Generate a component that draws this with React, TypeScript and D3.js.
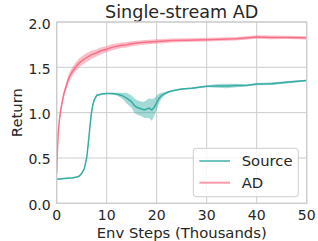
import * as d3 from 'd3'

const title = 'Single-stream AD'
const xLabel = 'Env Steps (Thousands)'
const yLabel = 'Return'
const xTicks = [0, 10, 20, 30, 40, 50]
const yTicks = [0, 0.5, 1.0, 1.5, 2.0]

// AD series (env steps in thousands, mean return, half-width of the band)
const adSteps = [0, 0.1, 0.27, 0.5, 0.73, 1, 1.4, 2, 2.4, 3, 3.75, 4.5, 5.75, 7, 7.8, 8.7, 10, 11, 12.7, 14, 15, 17, 20, 23, 26, 30, 33, 36, 40, 43, 46, 50]
const adReturn = [0.33, 0.52, 0.75, 0.9, 1.0, 1.09, 1.2, 1.31, 1.38, 1.44, 1.5, 1.55, 1.6, 1.64, 1.655, 1.68, 1.7, 1.72, 1.74, 1.75, 1.76, 1.775, 1.785, 1.795, 1.8, 1.805, 1.81, 1.815, 1.835, 1.83, 1.83, 1.825]
const adSpread = [0.01, 0.015, 0.02, 0.025, 0.03, 0.03, 0.035, 0.04, 0.045, 0.05, 0.05, 0.05, 0.05, 0.045, 0.04, 0.04, 0.035, 0.035, 0.03, 0.03, 0.028, 0.025, 0.025, 0.022, 0.022, 0.02, 0.02, 0.02, 0.02, 0.02, 0.018, 0.018]

// Source series
const sourceSteps = [0, 1, 2, 3, 4, 4.5, 5, 5.5, 6, 6.3, 6.6, 6.9, 7.2, 7.5, 8, 9, 10, 11, 12, 13, 14, 15, 15.5, 16, 17, 17.5, 18, 18.5, 19, 19.5, 20, 20.5, 21, 22, 23, 25, 27, 30, 32, 34, 36, 38, 40, 43, 45, 47, 50]
const sourceReturn = [0.265, 0.27, 0.275, 0.28, 0.29, 0.3, 0.33, 0.38, 0.5, 0.65, 0.82, 0.98, 1.08, 1.14, 1.19, 1.205, 1.21, 1.21, 1.205, 1.19, 1.16, 1.12, 1.08, 1.06, 1.04, 1.03, 1.04, 1.05, 1.03, 1.06, 1.11, 1.16, 1.19, 1.22, 1.24, 1.26, 1.27, 1.29, 1.295, 1.295, 1.3, 1.3, 1.315, 1.32, 1.33, 1.34, 1.355]
const sourceSpread = [0.006, 0.006, 0.006, 0.006, 0.007, 0.008, 0.01, 0.012, 0.015, 0.02, 0.02, 0.02, 0.02, 0.015, 0.01, 0.008, 0.008, 0.01, 0.015, 0.03, 0.06, 0.07, 0.08, 0.08, 0.08, 0.09, 0.1, 0.11, 0.12, 0.1, 0.08, 0.05, 0.03, 0.012, 0.01, 0.008, 0.008, 0.01, 0.02, 0.025, 0.02, 0.01, 0.012, 0.015, 0.015, 0.012, 0.008]

const AD_COLOR = '#f77189'
const SOURCE_COLOR = '#36ada4'
const TEXT = '#262626'
const GRID = '#cccccc'
const FONT = 'DejaVu Sans, sans-serif'

type Pt = { x: number; y: number; s: number }

function zipSeries(xs: number[], ys: number[], ss: number[]): Pt[] {
  return xs.map((x, i) => ({ x, y: ys[i], s: ss[i] }))
}

export default function App() {
  const width = 318
  const height = 241
  const margin = { top: 22, right: 11.3, bottom: 37.7, left: 56.7 }
  const innerW = width - margin.left - margin.right
  const innerH = height - margin.top - margin.bottom

  const x = d3.scaleLinear().domain([0, 50]).range([0, innerW])
  const y = d3.scaleLinear().domain([0, 2]).range([innerH, 0])

  const series = [
    { name: 'Source', color: SOURCE_COLOR, data: zipSeries(sourceSteps, sourceReturn, sourceSpread) },
    { name: 'AD', color: AD_COLOR, data: zipSeries(adSteps, adReturn, adSpread) },
  ]

  const area = d3
    .area<Pt>()
    .x((d) => x(d.x))
    .y0((d) => y(d.y - d.s))
    .y1((d) => y(d.y + d.s))
  const line = d3
    .line<Pt>()
    .x((d) => x(d.x))
    .y((d) => y(d.y))

  const legend = { x: 136.6, y: 126.3, w: 105, h: 48.4 }

  return (
    <svg
      width={width}
      height={height}
      style={{ position: 'absolute', left: 0, top: 0, background: '#fff' }}
      fontFamily={FONT}
    >
      <text x={margin.left + innerW / 2} y={18.3} textAnchor="middle" fontSize={17.6} fill={TEXT}>
        {title}
      </text>
      <g transform={`translate(${margin.left}, ${margin.top})`}>
        {/* grid */}
        {xTicks.map((t) => (
          <line key={`gx-${t}`} x1={x(t)} x2={x(t)} y1={0} y2={innerH} stroke={GRID} strokeWidth={1} />
        ))}
        {yTicks.map((t) => (
          <line key={`gy-${t}`} x1={0} x2={innerW} y1={y(t)} y2={y(t)} stroke={GRID} strokeWidth={1} />
        ))}

        {/* bands + mean lines */}
        {series.map((s) => (
          <g key={s.name}>
            <path d={area(s.data) || ''} fill={s.color} fillOpacity={0.45} />
            <path d={line(s.data) || ''} fill="none" stroke={s.color} strokeWidth={1.5} />
          </g>
        ))}

        {/* frame */}
        <rect x={0} y={0} width={innerW} height={innerH} fill="none" stroke={GRID} strokeWidth={1.2} />

        {/* tick labels */}
        {xTicks.map((t) => (
          <text key={`tx-${t}`} x={x(t)} y={innerH + 16.7} textAnchor="middle" fontSize={14} fill={TEXT}>
            {t}
          </text>
        ))}
        {yTicks.map((t) => (
          <text key={`ty-${t}`} x={-6} y={y(t) + 6.5} textAnchor="end" fontSize={14} fill={TEXT}>
            {d3.format('.1f')(t)}
          </text>
        ))}

        {/* legend */}
        <rect
          x={legend.x}
          y={legend.y}
          width={legend.w}
          height={legend.h}
          rx={3}
          fill="#fff"
          fillOpacity={0.8}
          stroke={GRID}
          strokeWidth={1}
        />
        {series.map((s, i) => (
          <g key={`leg-${s.name}`} transform={`translate(${legend.x}, ${legend.y + 12.7 + i * 21.7})`}>
            <line x1={6} x2={36.7} y1={0} y2={0} stroke={s.color} strokeOpacity={0.7} strokeWidth={2} />
            <text x={48.4} y={5.3} fontSize={14.8} fill={TEXT}>
              {s.name}
            </text>
          </g>
        ))}
      </g>
      <text x={margin.left + innerW / 2} y={238} textAnchor="middle" fontSize={14.8} fill={TEXT}>
        {xLabel}
      </text>
      <text
        transform={`translate(21.5, ${margin.top + innerH / 2}) rotate(-90)`}
        textAnchor="middle"
        fontSize={14.8}
        fill={TEXT}
      >
        {yLabel}
      </text>
    </svg>
  )
}
